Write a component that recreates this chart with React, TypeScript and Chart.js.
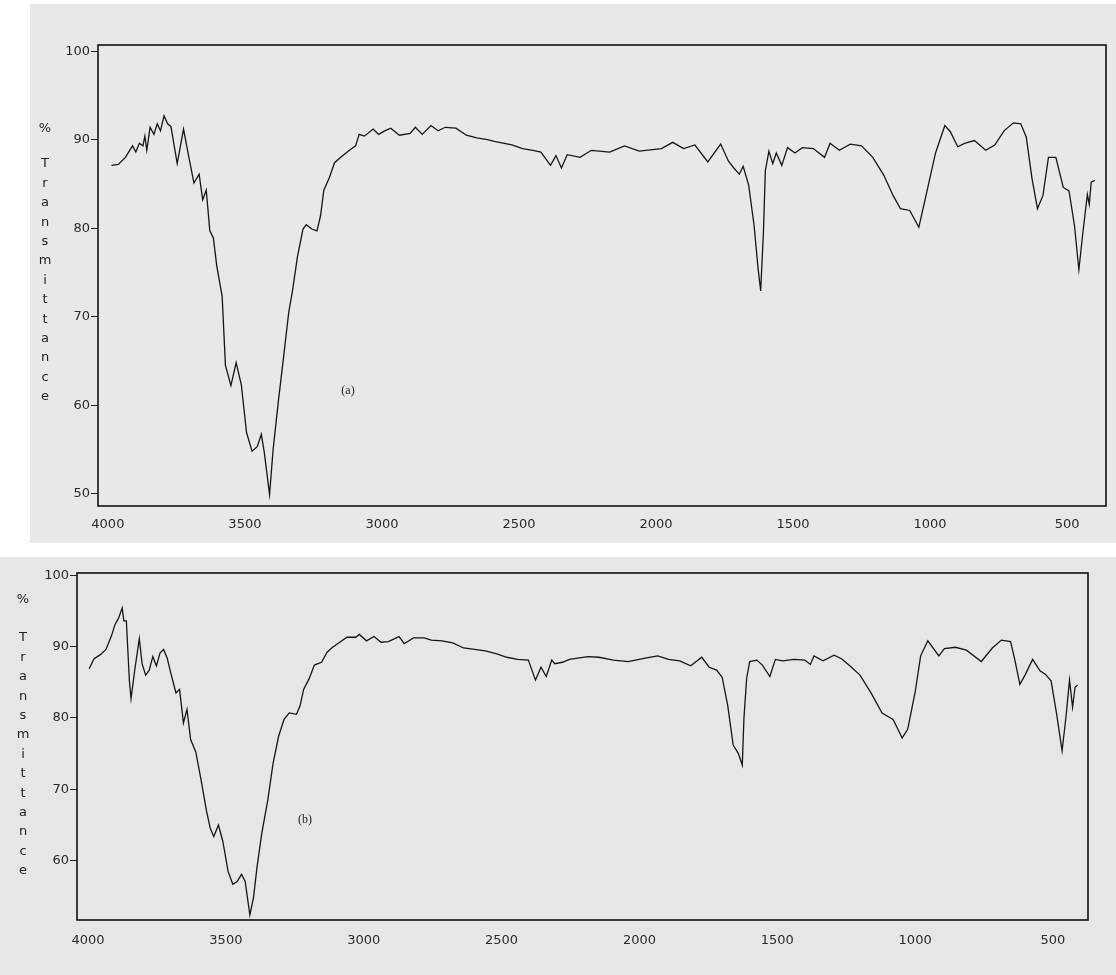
import React, { useEffect, useRef } from "react";
import { Chart, registerables } from "chart.js";

Chart.register(...registerables);

// ---- data ----
const xTickValues = [4000, 3500, 3000, 2500, 2000, 1500, 1000, 500];
const yTicksA = [50, 60, 70, 80, 90, 100];
const yTicksB = [60, 70, 80, 90, 100];
const yTitleLetters = ["%", "T", "r", "a", "n", "s", "m", "i", "t", "t", "a", "n", "c", "e"];
const panelLabelA = "(a)";
const panelLabelB = "(b)";

const wavenumbersA = [
  3987, 3962, 3936, 3922, 3910, 3898, 3885, 3872, 3865, 3858, 3846, 3832, 3820, 3808, 3795, 3782,
  3770, 3747, 3724, 3705, 3686, 3667, 3654, 3641, 3628, 3615, 3603, 3583, 3571, 3551, 3532, 3513,
  3494, 3474, 3455, 3440, 3429, 3410, 3397, 3378, 3359, 3340, 3327, 3308, 3288, 3276, 3256, 3237,
  3224, 3212, 3192, 3173, 3147, 3115, 3096, 3083, 3064, 3032, 3012, 2990, 2968, 2936, 2897, 2878,
  2853, 2821, 2795, 2769, 2730, 2692, 2654, 2615, 2590, 2558, 2526, 2487, 2449, 2420, 2385, 2365,
  2345, 2324, 2277, 2236, 2169, 2115, 2061, 1980, 1939, 1899, 1858, 1811, 1764, 1736, 1716, 1696,
  1682, 1662, 1642, 1628, 1618, 1608, 1601, 1588, 1574, 1561, 1541, 1520, 1493, 1466, 1426, 1385,
  1365, 1331, 1291, 1250, 1209, 1169, 1135, 1108, 1074, 1041, 1014, 980, 946, 926, 899, 872,
  838, 797, 764, 730, 696, 669, 649, 628, 608, 588, 568, 541, 514, 493, 473, 457,
  442, 426, 419, 412, 399,
];
const transmittanceA = [
  87.1, 87.2, 88.0, 88.7, 89.3, 88.6, 89.6, 89.3, 90.4, 88.8, 91.4, 90.6, 91.8, 91.0, 92.7, 91.8,
  91.5, 87.3, 91.2, 88.1, 85.1, 86.1, 83.2, 84.3, 79.7, 78.9, 75.8, 72.3, 64.5, 62.2, 64.8, 62.3,
  56.9, 54.8, 55.3, 56.7, 54.6, 49.9, 55.0, 60.4, 65.4, 70.5, 72.8, 76.8, 79.9, 80.4, 79.9, 79.7,
  81.4, 84.3, 85.7, 87.4, 88.1, 88.9, 89.3, 90.6, 90.4, 91.2, 90.6, 91.0, 91.3, 90.5, 90.7, 91.4,
  90.6, 91.6, 91.0, 91.4, 91.3, 90.5, 90.2, 90.0, 89.8, 89.6, 89.4, 89.0, 88.8, 88.6, 87.1, 88.2,
  86.8, 88.3, 88.0, 88.8, 88.6, 89.3, 88.7, 89.0, 89.7, 89.0, 89.4, 87.5, 89.5, 87.6, 86.8, 86.1,
  87.0, 84.9, 80.3, 75.6, 72.9, 79.5, 86.5, 88.7, 87.3, 88.5, 87.1, 89.1, 88.5, 89.1, 89.0, 88.0,
  89.6, 88.8, 89.5, 89.3, 88.0, 86.0, 83.7, 82.2, 82.0, 80.1, 83.8, 88.5, 91.6, 90.9, 89.2, 89.6,
  89.9, 88.8, 89.4, 91.0, 91.9, 91.8, 90.3, 85.6, 82.2, 83.7, 88.0, 88.0, 84.6, 84.2, 80.3, 75.3,
  79.6, 83.8, 82.7, 85.2, 85.4,
];

const wavenumbersB = [
  3996, 3978, 3954, 3935, 3915, 3902, 3889, 3876, 3870, 3861, 3850, 3844, 3831, 3814, 3804, 3791,
  3778, 3765, 3752, 3739, 3726, 3713, 3700, 3681, 3668, 3654, 3641, 3628, 3609, 3589, 3570, 3557,
  3544, 3527, 3511, 3492, 3475, 3459, 3443, 3430, 3413, 3400, 3387, 3370, 3348, 3329, 3309, 3289,
  3270, 3244, 3231, 3218, 3198, 3179, 3153, 3133, 3113, 3087, 3061, 3029, 3016, 2990, 2963, 2937,
  2911, 2872, 2853, 2820, 2781, 2755, 2716, 2677, 2638, 2598, 2559, 2520, 2481, 2442, 2403, 2377,
  2357, 2338, 2318, 2307, 2279, 2254, 2187, 2147, 2094, 2041, 1974, 1934, 1894, 1854, 1814, 1774,
  1747, 1720, 1700, 1680, 1660, 1641, 1627, 1621, 1611, 1600, 1574, 1554, 1527, 1507, 1481, 1440,
  1400, 1380, 1367, 1334, 1294, 1267, 1234, 1200, 1160, 1120, 1080, 1047, 1027, 1000, 980, 954,
  914, 894, 854, 814, 760, 720, 687, 654, 640, 620, 600, 574, 547, 527, 507, 487,
  467, 453, 440, 429, 420, 411,
];
const transmittanceB = [
  86.9, 88.3, 88.9, 89.6, 91.5, 93.1, 94.0, 95.4, 93.6, 93.6, 85.2, 82.7, 86.6, 91.1, 87.6, 86.0,
  86.7, 88.6, 87.3, 89.1, 89.6, 88.4, 86.3, 83.5, 84.0, 79.3, 81.2, 77.0, 75.2, 71.1, 66.9, 64.6,
  63.4, 65.0, 62.7, 58.5, 56.7, 57.1, 58.1, 57.1, 52.4, 54.8, 59.1, 63.8, 68.5, 73.6, 77.4, 79.8,
  80.7, 80.5, 81.7, 84.0, 85.5, 87.4, 87.8, 89.2, 89.9, 90.6, 91.3, 91.3, 91.7, 90.8, 91.4, 90.6,
  90.7, 91.4, 90.4, 91.2, 91.2, 90.9, 90.8, 90.5, 89.8, 89.6, 89.4, 89.0, 88.5, 88.2, 88.1, 85.3,
  87.1, 85.8, 88.1, 87.6, 87.8, 88.2, 88.6, 88.5, 88.1, 87.9, 88.4, 88.7, 88.2, 88.0, 87.3, 88.5,
  87.1, 86.7, 85.7, 81.8, 76.2, 75.0, 73.4, 79.9, 85.6, 87.9, 88.1, 87.4, 85.8, 88.2, 88.0, 88.2,
  88.1, 87.5, 88.7, 88.0, 88.8, 88.3, 87.2, 86.0, 83.5, 80.7, 79.8, 77.2, 78.4, 83.6, 88.7, 90.8,
  88.7, 89.7, 89.9, 89.5, 87.9, 89.8, 90.9, 90.7, 88.4, 84.7, 86.1, 88.2, 86.6, 86.1, 85.2, 80.6,
  75.4, 80.1, 85.3, 81.5, 84.3, 84.6,
];

// ---- drawing ----
type PanelCfg = {
  width: number;
  height: number;
  wn: number[];
  tr: number[];
  xMin: number;
  xMax: number;
  yMin: number;
  yMax: number;
  yTicks: number[];
  padTop: number;
  padRight: number;
  yAxisWidth: number;
  xAxisHeight: number;
  xLabelPad: number;
  titleX: number;
  titleY0: number;
  titleGap: number;
  titleStep: number;
  label: string;
  labelX: number;
  labelY: number;
};

const FONT_FAMILY = "'DejaVu Sans', 'Liberation Sans', sans-serif";

function buildChart(canvas: HTMLCanvasElement, p: PanelCfg) {
  const decorations = {
    id: "decorations",
    afterDraw(chart: any) {
      const { ctx, chartArea } = chart;
      ctx.save();
      ctx.strokeStyle = "#111";
      ctx.lineWidth = 1.6;
      ctx.strokeRect(chartArea.left, chartArea.top, chartArea.right - chartArea.left, chartArea.bottom - chartArea.top);
      ctx.fillStyle = "#222";
      ctx.font = "13px " + FONT_FAMILY;
      ctx.textAlign = "center";
      ctx.textBaseline = "middle";
      yTitleLetters.forEach((ch, i) => {
        const y = i === 0 ? p.titleY0 : p.titleY0 + p.titleGap + (i - 1) * p.titleStep;
        ctx.fillText(ch, p.titleX, y);
      });
      ctx.font = "12px 'Liberation Serif', 'DejaVu Serif', serif";
      ctx.fillText(p.label, p.labelX, p.labelY);
      ctx.restore();
    },
  };

  return new Chart(canvas, {
    type: "line",
    data: {
      datasets: [
        {
          data: p.wn.map((x, i) => ({ x, y: p.tr[i] })),
          borderColor: "#151515",
          borderWidth: 1.3,
          pointRadius: 0,
          tension: 0,
          fill: false,
        },
      ],
    },
    options: {
      animation: false,
      responsive: false,
      events: [],
      layout: { padding: { left: 0, top: p.padTop, right: p.padRight, bottom: 0 } },
      plugins: { legend: { display: false }, tooltip: { enabled: false } },
      scales: {
        x: {
          type: "linear",
          reverse: true,
          min: p.xMin,
          max: p.xMax,
          afterBuildTicks: (s: any) => {
            s.ticks = xTickValues.map((v) => ({ value: v }));
          },
          afterFit: (s: any) => {
            s.height = p.xAxisHeight;
          },
          border: { display: false },
          grid: { display: false, drawTicks: false },
          ticks: {
            autoSkip: false,
            maxRotation: 0,
            padding: p.xLabelPad,
            color: "#2a2a2a",
            font: { family: FONT_FAMILY, size: 13 },
            callback: (v: any) => String(v),
          },
        },
        y: {
          type: "linear",
          min: p.yMin,
          max: p.yMax,
          afterBuildTicks: (s: any) => {
            s.ticks = p.yTicks.map((v) => ({ value: v }));
          },
          afterFit: (s: any) => {
            s.width = p.yAxisWidth;
          },
          border: { display: false },
          grid: { display: true, drawOnChartArea: false, drawTicks: true, tickLength: 7, color: "#222", lineWidth: 1 },
          ticks: {
            padding: 1,
            color: "#2a2a2a",
            font: { family: FONT_FAMILY, size: 13 },
            callback: (v: any) => String(v),
          },
        },
      },
    },
    plugins: [decorations],
  } as any);
}

const panelA: PanelCfg = {
  width: 1116,
  height: 545,
  wn: wavenumbersA,
  tr: transmittanceA,
  xMin: 358,
  xMax: 4036,
  yMin: 48.6,
  yMax: 100.7,
  yTicks: yTicksA,
  padTop: 45,
  padRight: 10,
  yAxisWidth: 98,
  xAxisHeight: 39,
  xLabelPad: 11,
  titleX: 45,
  titleY0: 129,
  titleGap: 35,
  titleStep: 19.4,
  label: panelLabelA,
  labelX: 348,
  labelY: 391,
};

const panelB: PanelCfg = {
  width: 1116,
  height: 425,
  wn: wavenumbersB,
  tr: transmittanceB,
  xMin: 373,
  xMax: 4040,
  yMin: 51.7,
  yMax: 100.3,
  yTicks: yTicksB,
  padTop: 23,
  padRight: 28,
  yAxisWidth: 77,
  xAxisHeight: 55,
  xLabelPad: 13,
  titleX: 23,
  titleY0: 50,
  titleGap: 38,
  titleStep: 19.4,
  label: panelLabelB,
  labelX: 305,
  labelY: 270,
};

function Panel({ cfg, top }: { cfg: PanelCfg; top: number }) {
  const ref = useRef<HTMLCanvasElement | null>(null);
  useEffect(() => {
    if (!ref.current) return;
    const chart = buildChart(ref.current, cfg);
    return () => chart.destroy();
  }, [cfg]);
  return (
    <canvas
      ref={ref}
      width={cfg.width}
      height={cfg.height}
      style={{ position: "absolute", left: 0, top, width: cfg.width, height: cfg.height }}
    />
  );
}

export default function App() {
  return (
    <div style={{ position: "absolute", left: 0, top: 0, width: 1116, height: 975, background: "#ffffff", overflow: "hidden" }}>
      <div style={{ position: "absolute", left: 30, top: 4, width: 1086, height: 539, background: "#e8e8e8" }} />
      <div style={{ position: "absolute", left: 0, top: 557, width: 1116, height: 418, background: "#e6e6e6" }} />
      <Panel cfg={panelA} top={0} />
      <Panel cfg={panelB} top={550} />
    </div>
  );
}
